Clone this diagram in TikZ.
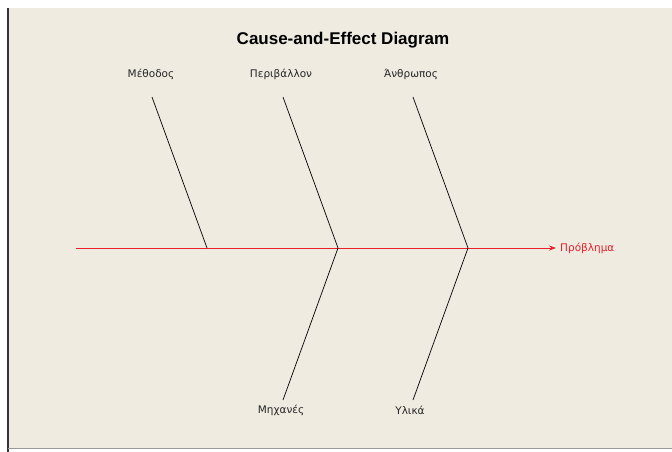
\documentclass[tikz,border=0pt]{standalone}
\usepackage{fontspec}
\setmainfont{Liberation Sans}
\newfontfamily\labelfont{DejaVu Sans}
\usetikzlibrary{positioning, arrows.meta}
\definecolor{paper}{HTML}{EFEBE1}
\definecolor{spinered}{HTML}{E8202A}

\begin{document}
\begin{tikzpicture}[x=1pt, y=-1pt,
            cause/.style={font=\labelfont\fontsize{10.5}{12}\selectfont, text=black!85, inner sep=1pt},
            bone/.style={black, line width=0.7pt},
            spine/.style={-{Stealth[length=7pt, width=5pt]}, spinered, line width=0.8pt}]

        % frame and background
        \useasboundingbox (0,0) rectangle (672,452);
        \fill[white] (0,0) rectangle (672,452);
        \fill[paper] (8,8) rectangle (672,448);
        \draw[black!80, line width=1.2pt] (8,8) -- (8,452);
        \draw[black!40, line width=1pt] (8,448.5) -- (672,448.5);

        \node[font=\fontsize{17}{19}\selectfont\bfseries] (title) at (343,40) {Cause-and-Effect Diagram};

        % spine
        \coordinate (tail) at (76,248);
        \coordinate (head) at (556,248);
        \coordinate (j1) at (207,248);
        \coordinate (j2) at (338,248);
        \coordinate (j3) at (468,248);
        \node[cause, text=spinered, anchor=west] (problem) at (559,248) {Πρόβλημα};

        % causes
        \node[cause] (method) at (151,74) {Μέθοδος};
        \node[cause] (environment) at (281,74) {Περιβάλλον};
        \node[cause] (human) at (411,74) {Άνθρωπος};
        \node[cause] (machines) at (281,410) {Μηχανές};
        \node[cause] (materials) at (410,410) {Υλικά};

        \draw[spine] (tail) -- (head);
        \draw[bone] ([xshift=1pt, yshift=-23pt]method.center) -- (j1);
        \draw[bone] ([xshift=2pt, yshift=-23pt]environment.center) -- (j2);
        \draw[bone] ([xshift=2pt, yshift=-23pt]human.center) -- (j3);
        \draw[bone] (j2) -- ([xshift=2pt, yshift=10pt]machines.center);
        \draw[bone] (j3) -- ([xshift=3pt, yshift=10pt]materials.center);
    \end{tikzpicture}
\end{document}
